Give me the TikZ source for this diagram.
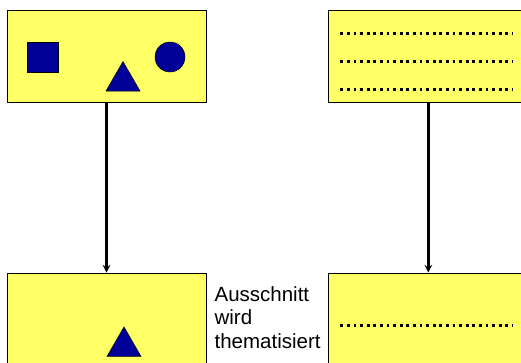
\documentclass[tikz,border=0pt]{standalone}
\usepackage{xcolor}
\usepackage{fontspec}
\setmainfont{Liberation Sans}
\usepackage{tikz}
\usetikzlibrary{shapes.geometric, arrows, positioning}
\definecolor{padyellow}{HTML}{FFFF66}
\definecolor{shapeblue}{HTML}{000099}
\tikzstyle{panel} = [rectangle, minimum width=199pt, minimum height=92pt, draw=black, line width=0.8pt, fill=padyellow]
\tikzstyle{figure} = [draw=black, line width=0.5pt, fill=shapeblue, inner sep=0pt]
\tikzstyle{tri} = [figure, regular polygon, regular polygon sides=3, minimum size=39.3pt]
\tikzstyle{dotline} = [line width=2.7pt, dash pattern=on 2.7pt off 3.9pt]
\tikzstyle{pfeil} = [line width=2.4pt,->,>=stealth]

\begin{document}
\begin{tikzpicture}[x=1pt, y=-1pt, node distance=263pt]
        \useasboundingbox (0,0) rectangle (521,362);

        \node (whole) [panel] at (106.5,56) {};
        \node (text) [panel, right=122pt of whole] {};
        \node (part) [panel, below of=whole] {};
        \node (line) [panel, below of=text] {};

        % Figuren
        \node (sq) [figure, rectangle, minimum width=31pt, minimum height=30pt] at (42.5,57) {};
        \node (tr) [tri] at (123,81.2) {};
        \node (ci) [figure, circle, minimum size=30pt] at (170,57) {};
        \node (trpart) [tri] at (124,346.6) {};

        % Textzeilen
        \draw [dotline] ([xshift=12pt,yshift=-24pt]text.north west) -- ++(173,0);
        \draw [dotline] ([xshift=12pt,yshift=-52pt]text.north west) -- ++(173,0);
        \draw [dotline] ([xshift=12pt,yshift=-80pt]text.north west) -- ++(173,0);
        \draw [dotline] ([xshift=12pt,yshift=-53pt]line.north west) -- ++(173,0);

        \node (note) [anchor=north west, align=left, inner sep=0pt, font=\fontsize{20.5}{23.3}\selectfont] at ([xshift=8pt,yshift=-14pt]part.north east) {Ausschnitt\\wird\\thematisiert};

        \draw [pfeil] (whole) -- (part);
        \draw [pfeil] (text) -- (line);
    \end{tikzpicture}
\end{document}
